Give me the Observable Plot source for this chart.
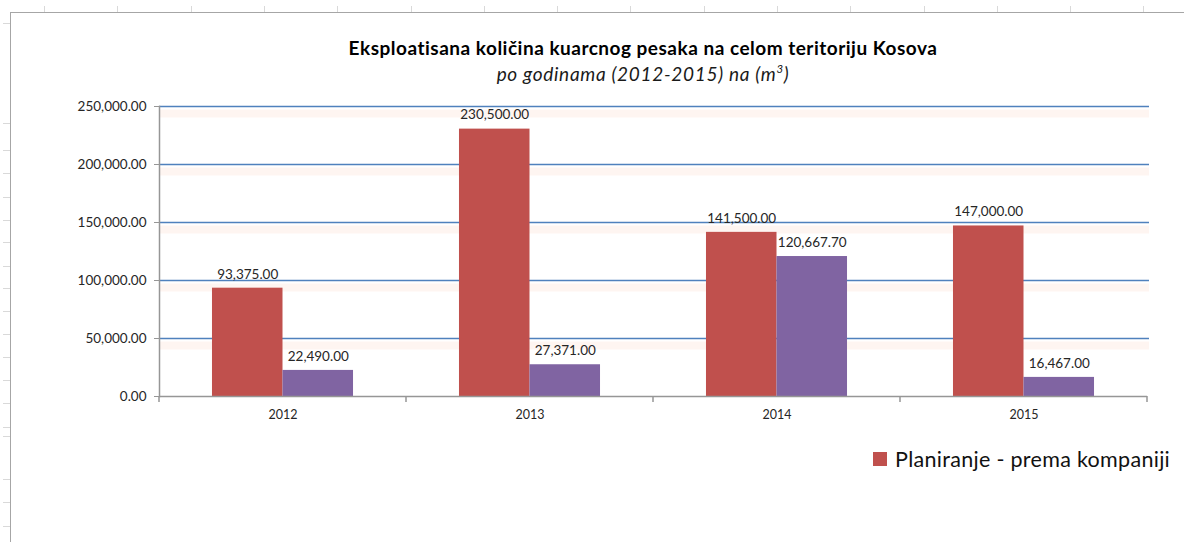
<!DOCTYPE html>
<html>
<head>
<meta charset="utf-8">
<script src="https://cdn.jsdelivr.net/npm/d3@7"></script>
<script src="https://cdn.jsdelivr.net/npm/@observablehq/plot@0.6"></script>
<style>
  html, body { margin: 0; padding: 0; background: #fff; }
  #wrap { position: relative; width: 1184px; height: 542px; overflow: hidden; background: #fff; font-family: Lato, "Open Sans", sans-serif; }
  #frame { position: absolute; left: 10px; top: 12px; right: -2px; bottom: -2px; border-left: 1.5px solid #a6a6a6; border-top: 1.5px solid #a6a6a6; pointer-events: none; }
  .ctick { position: absolute; top: 6px; width: 1px; height: 6px; background: #d9d9d9; }
  .rtick { position: absolute; left: 3px; width: 7px; height: 1px; background: #d9d9d9; }
  #title { position: absolute; left: 0; top: 0; width: 1286px; text-align: center; }
  #t1 { position: absolute; left: 0; right: 0; top: 36px; font-weight: 700; font-size: 19px; letter-spacing: 0.5px; color: #000; white-space: nowrap; }
  #t2 { position: absolute; left: 0; right: 0; top: 62px; font-style: italic; font-size: 19px; letter-spacing: 0.7px; color: #1a1a1a; white-space: nowrap; }
  #t2 sup { font-size: 0.6em; vertical-align: 0.7em; line-height: 0; }
  #chart { position: absolute; left: 0; top: 96px; }
  #legend { position: absolute; left: 873px; top: 446px; display: flex; align-items: center; gap: 8px; font-size: 21.5px; letter-spacing: 0.3px; color: #111; white-space: nowrap; }
  #legend .sw { width: 14px; height: 14px; }
</style>
</head>
<body>
<div id="wrap">
  <div id="title">
    <div id="t1">Eksploatisana količina kuarcnog pesaka na celom teritoriju Kosova</div>
    <div id="t2">po godinama (2012-2015) na (m<sup>3</sup>)</div>
  </div>
  <div id="chart"></div>
  <div id="legend"></div>
  <div id="frame"></div>
</div>
<script>
// ---- data ----
const years = ["2012", "2013", "2014", "2015"];
const seriesKeys = ["plan", "real"];
const seriesLabels = ["Planiranje - prema kompaniji", "Realizovano"];
const plannedValues = [93375, 230500, 141500, 147000];
const actualValues = [22490, 27371, 120667.70, 16467];
const yTicks = [0, 50000, 100000, 150000, 200000, 250000];
const seriesColors = ["#C0504D", "#8064A2"];

const rows = years.flatMap((year, i) => [
  {year, series: "plan", value: plannedValues[i]},
  {year, series: "real", value: actualValues[i]}
]);
const fmt = d3.format(",.2f");

// ---- layout ----
const W = 1184, H = 330;
const mL = 159, mR = 37, mT = 10, mB = 30;
const bw = (W - mL - mR) / years.length;      // category width
const barW = bw * 0.2855;                      // each bar
const outer = (bw - 2 * barW) / 2;

// category boundary ticks drawn through the x/y scales
const boundaryTicks = (index, scales) => {
  const x = scales.x, b = x.bandwidth();
  const y0 = scales.y(0);
  const xs = years.map(y => x(y)).concat([x(years[years.length - 1]) + b]);
  const g = d3.create("svg:g").attr("stroke", "#969696").attr("stroke-width", 1.5);
  g.selectAll("line").data(xs).join("line")
    .attr("x1", d => d).attr("x2", d => d)
    .attr("y1", y0).attr("y2", y0 + 6);
  return g.node();
};

const gridVals = yTicks.filter(v => v > 0);
const planRows = rows.filter(d => d.series === "plan");
const realRows = rows.filter(d => d.series === "real");

const chart = Plot.plot({
  width: W, height: H,
  marginLeft: mL, marginRight: mR, marginTop: mT, marginBottom: mB,
  style: {fontFamily: "Lato, 'Open Sans', sans-serif", background: "transparent", overflow: "visible"},
  x: {domain: years, padding: 0, axis: null},
  y: {domain: [0, 250000], axis: null},
  color: {domain: seriesKeys, range: seriesColors},
  marks: [
    Plot.ruleY(gridVals, {stroke: "#fbe3d6", strokeWidth: 8, strokeOpacity: 0.35, dy: 7, insetRight: -2}),
    Plot.ruleY(gridVals, {stroke: "#4F81BD", strokeWidth: 1.3, insetRight: -2}),
    Plot.barY(planRows, {x: "year", y: "value", fill: "series", insetLeft: outer, insetRight: bw - outer - barW}),
    Plot.barY(realRows, {x: "year", y: "value", fill: "series", insetLeft: outer + barW, insetRight: outer}),
    Plot.text(planRows, {x: "year", y: "value", text: d => fmt(d.value), dx: -barW / 2, dy: -14, fontSize: 13.5, fill: "#262626"}),
    Plot.text(realRows, {x: "year", y: "value", text: d => fmt(d.value), dx: barW / 2, dy: -14, fontSize: 13.5, fill: "#262626"}),
    Plot.ruleY([0], {stroke: "#969696", strokeWidth: 1.5}),
    Plot.frame({anchor: "left", stroke: "#969696", strokeWidth: 1.5}),
    boundaryTicks,
    Plot.axisY({ticks: yTicks, tickFormat: fmt, tickSize: 5, tickPadding: 8, fontSize: 13.5, color: "#262626", stroke: "#969696", label: null}),
    Plot.axisX({tickSize: 0, tickPadding: 14, fontSize: 12.5, color: "#262626", label: null})
  ]
});
document.getElementById("chart").appendChild(chart);

// legend (first series, as visible in the original)
const legend = document.getElementById("legend");
const sw = document.createElement("div");
sw.className = "sw"; sw.style.background = seriesColors[0];
const lt = document.createElement("span");
lt.textContent = seriesLabels[0];
legend.appendChild(sw); legend.appendChild(lt);

// spreadsheet grid decoration around the frame
const wrap = document.getElementById("wrap");
for (let x = 44; x < 1184; x += 73.3) {
  const d = document.createElement("div"); d.className = "ctick"; d.style.left = Math.round(x) + "px"; wrap.appendChild(d);
}
[23, 123, 150, 173, 197, 220, 242, 266, 288, 311, 334, 357, 380, 403, 427, 436, 479, 502, 526].forEach(y => {
  const d = document.createElement("div"); d.className = "rtick"; d.style.top = y + "px"; wrap.appendChild(d);
});
</script>
</body>
</html>
